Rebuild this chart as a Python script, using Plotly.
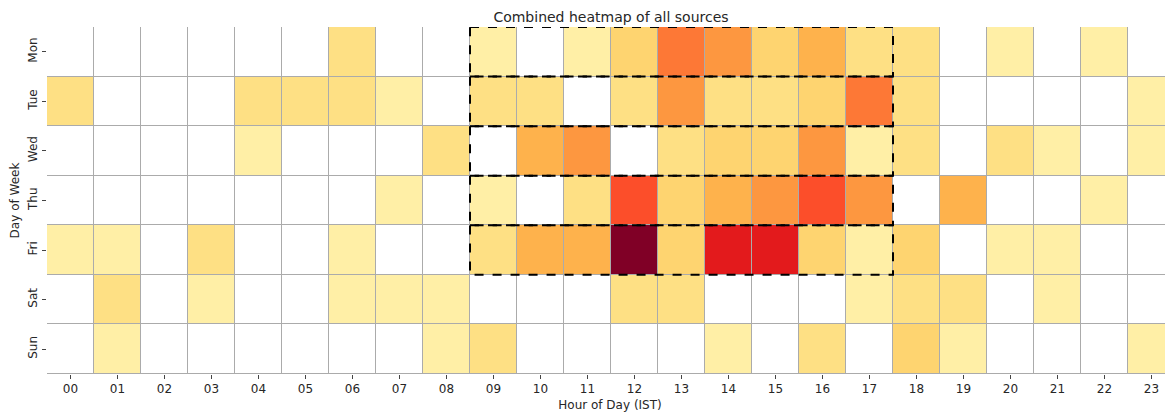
import plotly.graph_objects as go

# ---- data ----
days = ["Mon", "Tue", "Wed", "Thu", "Fri", "Sat", "Sun"]
hours = [f"{h:02d}" for h in range(24)]

mon = [0, 0, 0, 0, 0, 0, 2.5, 0, 0, 1.3, 0, 1.3, 3.2, 6.5, 5.6, 3.2, 4.5, 2.5, 2.5, 0, 1.3, 0, 1.3, 0]
tue = [2.5, 0, 0, 0, 2.5, 2.5, 2.5, 1.3, 0, 2.5, 2.5, 0, 2.5, 5.6, 2.5, 2.5, 3.2, 6.5, 2.5, 0, 0, 0, 0, 1.3]
wed = [0, 0, 0, 0, 1.3, 0, 0, 0, 2.5, 0, 4.5, 5.6, 0, 2.5, 3.2, 3.2, 5.6, 1.3, 2.5, 0, 2.5, 1.3, 0, 1.3]
thu = [0, 0, 0, 0, 0, 0, 0, 1.3, 0, 1.3, 0, 2.5, 7.5, 3.2, 4.5, 5.6, 7.5, 5.6, 0, 4.5, 0, 0, 1.3, 0]
fri = [1.3, 1.3, 0, 2.5, 0, 0, 1.3, 0, 0, 2.5, 4.5, 4.5, 12, 3.2, 9, 9, 3.2, 1.3, 3.2, 0, 1.3, 1.3, 0, 0]
sat = [0, 2.5, 0, 1.3, 0, 0, 1.3, 1.3, 1.3, 0, 0, 0, 2.5, 2.5, 0, 0, 0, 1.3, 2.5, 2.5, 0, 1.3, 0, 0]
sun = [0, 1.3, 0, 0, 0, 0, 0, 0, 1.3, 2.5, 0, 0, 0, 0, 1.3, 0, 2.5, 0, 3.2, 1.3, 0, 0, 0, 1.3]

values = [mon, tue, wed, thu, fri, sat, sun]

# highlighted block: weekdays, working hours
highlight_days = ["Mon", "Tue", "Wed", "Thu", "Fri"]
highlight_start_hour = 9
highlight_end_hour = 17

ylorrd = ["#ffffcc", "#ffeda0", "#fed976", "#feb24c", "#fd8d3c",
          "#fc4e2a", "#e31a1c", "#bd0026", "#800026"]
colorscale = [[i / (len(ylorrd) - 1), c] for i, c in enumerate(ylorrd)]

xs = list(range(len(hours)))
ys = list(range(len(days)))

z_masked = [[v if v > 0 else None for v in row] for row in values]
z_bg = [[0 for _ in row] for row in values]

fig = go.Figure()
fig.add_trace(go.Heatmap(
    x=xs, y=ys, z=z_bg,
    colorscale=[[0, "white"], [1, "white"]],
    showscale=False, xgap=1, ygap=1, hoverinfo="skip",
))
fig.add_trace(go.Heatmap(
    x=xs, y=ys, z=z_masked,
    colorscale=colorscale, zmin=0, zmax=max(max(r) for r in values),
    showscale=False, xgap=1, ygap=1,
))

for d in highlight_days:
    i = days.index(d)
    fig.add_shape(
        type="rect", xref="x", yref="y",
        x0=highlight_start_hour - 0.5, x1=highlight_end_hour + 0.5,
        y0=i - 0.5, y1=i + 0.5,
        line=dict(color="black", width=2, dash="dash"),
        fillcolor="rgba(0,0,0,0)",
    )

# page body has an 8px margin, so the figure is sized/offset accordingly
cell_w = 47.0
ml, mr, mt, mb = 39, 0, 19, 41
W, H = 1165, 407
fig.update_layout(
    width=W, height=H,
    margin=dict(l=ml, r=mr, t=mt, b=mb, autoexpand=False),
    paper_bgcolor="white",
    plot_bgcolor="#ababab",
    font=dict(family="DejaVu Sans", size=12, color="#262626"),
    title=dict(text="Combined heatmap of all sources",
               x=(ml + ml + len(hours) * cell_w) / 2 / W, xanchor="center",
               y=1 - 9 / H, yanchor="middle",
               font=dict(size=14, color="#262626"), automargin=False),
    showlegend=False,
)
fig.update_xaxes(
    automargin=False,
    range=[-0.5, -0.5 + (W - ml - mr) / cell_w],
    tickmode="array", tickvals=xs, ticktext=hours,
    ticks="outside", ticklen=4, tickcolor="#444", tickwidth=1,
    showgrid=False, zeroline=False, showline=False,
    title=dict(text="Hour of Day (IST)", standoff=5, font=dict(size=12)),
    tickfont=dict(size=12),
)
fig.update_yaxes(
    automargin=False,
    range=[len(days) - 0.5, -0.5],
    tickmode="array", tickvals=ys, ticktext=days, tickangle=-90,
    ticks="outside", ticklen=4, tickcolor="#444", tickwidth=1,
    showgrid=False, zeroline=False, showline=False,
    title=dict(text="Day of Week", standoff=4, font=dict(size=12)),
    tickfont=dict(size=12),
)

fig.write_html("out.html")
